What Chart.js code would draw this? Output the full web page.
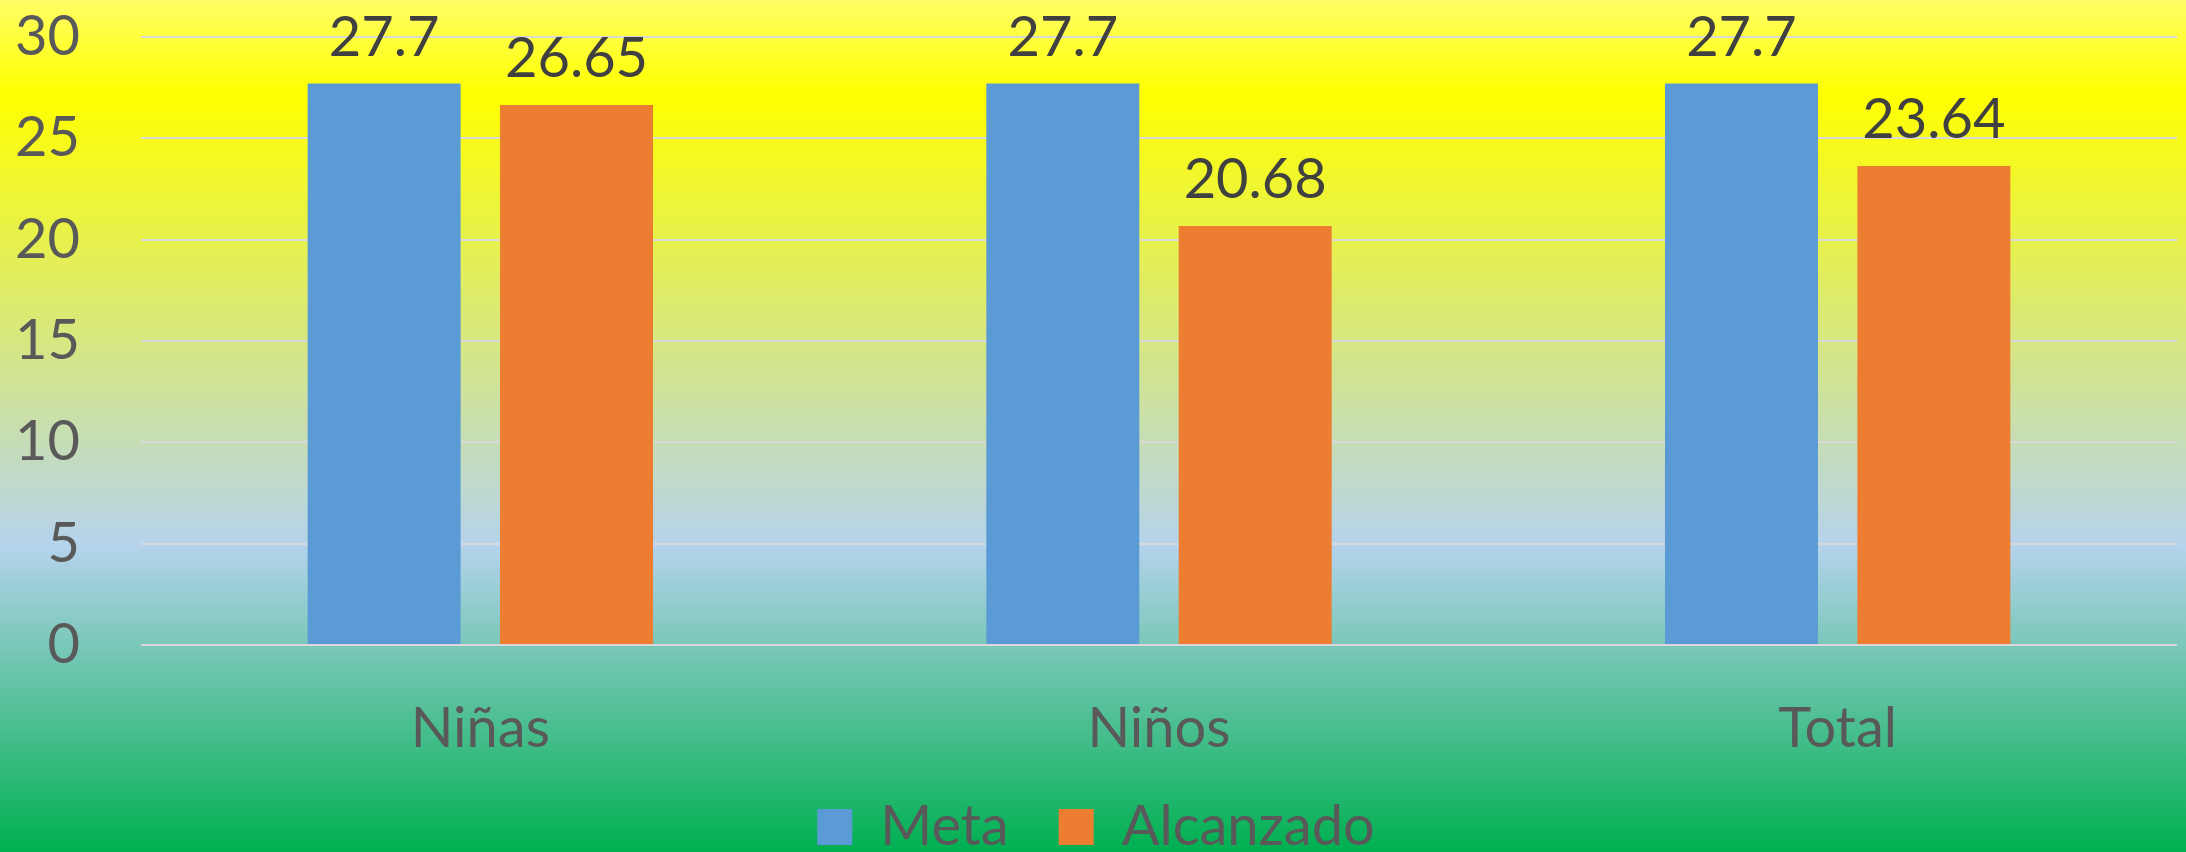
<!DOCTYPE html>
<html>
<head>
<meta charset="utf-8">
<script src="https://cdn.jsdelivr.net/npm/chart.js@4"></script>
<style>
  html, body { margin: 0; padding: 0; overflow: hidden; }
  #wrap { width: 2186px; height: 852px; }
</style>
</head>
<body>
<div id="wrap"><canvas id="barChart"></canvas></div>
<script>
// Data
const categories = ['Niñas', 'Niños', 'Total'];
const meta = [27.7, 27.7, 27.7];
const alcanzado = [26.65, 20.68, 23.64];
const yTicks = [0, 5, 10, 15, 20, 25, 30];

const FONT = 'Lato';

// paints the yellow -> light blue -> green background
const backgroundGradient = {
    id: 'backgroundGradient',
    beforeDraw(chart) {
        const c = chart.ctx;
        const g = c.createLinearGradient(0, 0, 0, chart.height);
        g.addColorStop(0, '#ffff66');
        g.addColorStop(0.11, '#ffff00');
        g.addColorStop(0.64, '#b5d3ec');
        g.addColorStop(1, '#00b050');
        c.save();
        c.fillStyle = g;
        c.fillRect(0, 0, chart.width, chart.height);
        c.restore();
    }
};

// value labels above each bar
const valueLabels = {
    id: 'valueLabels',
    afterDatasetsDraw(chart) {
        const c = chart.ctx;
        c.save();
        c.font = '56px ' + FONT;
        c.fillStyle = '#404040';
        c.textAlign = 'center';
        c.textBaseline = 'middle';
        chart.data.datasets.forEach((ds, i) => {
            chart.getDatasetMeta(i).data.forEach((bar, j) => {
                c.fillText(String(ds.data[j]), bar.x, bar.y - 46);
            });
        });
        c.restore();
    }
};

const ctx = document.getElementById('barChart').getContext('2d');
const barChart = new Chart(ctx, {
    type: 'bar',
    data: {
        labels: categories,
        datasets: [
            {
                label: 'Meta',
                data: meta,
                backgroundColor: '#5b9bd5',
                categoryPercentage: 0.567,
                barPercentage: 0.795
            },
            {
                label: 'Alcanzado',
                data: alcanzado,
                backgroundColor: '#ed7d31',
                categoryPercentage: 0.567,
                barPercentage: 0.795
            }
        ]
    },
    options: {
        responsive: true,
        maintainAspectRatio: false,
        animation: false,
        layout: {
            padding: { top: 37, left: 15, right: 9, bottom: -13 }
        },
        plugins: {
            legend: {
                position: 'bottom',
                labels: {
                    font: { family: FONT, size: 56 },
                    color: '#595959',
                    boxWidth: 35,
                    boxHeight: 36,
                    padding: 50
                }
            },
            tooltip: { enabled: false }
        },
        scales: {
            x: {
                grid: { display: false, drawTicks: false },
                border: { display: false },
                ticks: {
                    font: { family: FONT, size: 56 },
                    color: '#595959',
                    padding: 50
                },
                afterFit(axis) {
                    axis.height = 104;
                    axis.paddingLeft = 0;
                    axis.paddingRight = 0;
                }
            },
            y: {
                min: 0,
                max: 30,
                afterBuildTicks(axis) {
                    axis.ticks = yTicks.map(v => ({ value: v }));
                },
                grid: { color: '#d9d9d9', lineWidth: 2, drawTicks: false },
                border: { display: false },
                ticks: {
                    font: { family: FONT, size: 56 },
                    color: '#595959',
                    padding: 61
                },
                afterFit(axis) {
                    axis.width = 126;
                    axis.paddingTop = 0;
                    axis.paddingBottom = 0;
                }
            }
        }
    },
    plugins: [backgroundGradient, valueLabels]
});
</script>
</body>
</html>
